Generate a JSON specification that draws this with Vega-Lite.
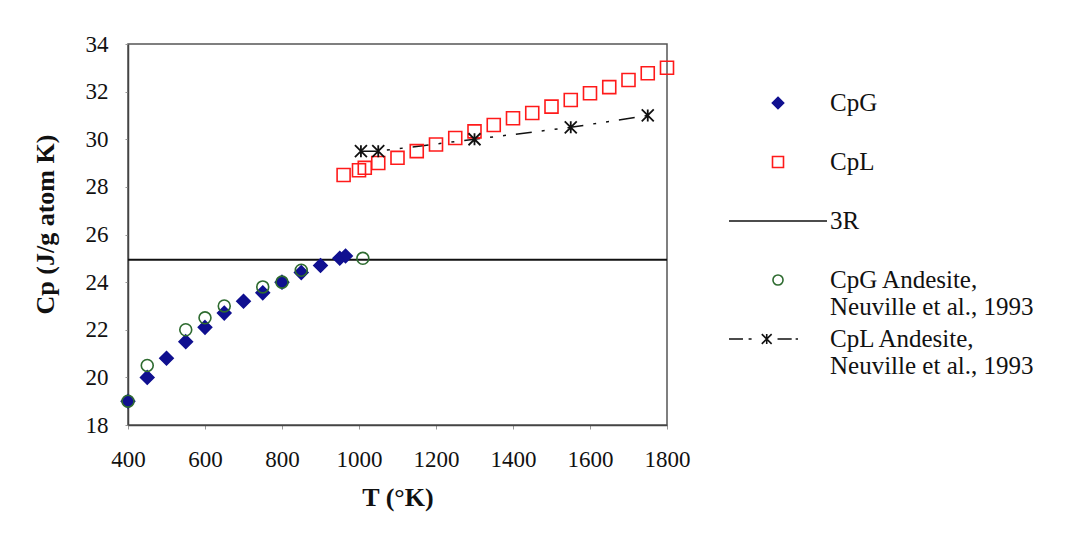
{
  "$schema": "https://vega.github.io/schema/vega-lite/v6.json",
  "width": 539,
  "height": 381,
  "autosize": {"type": "none"},
  "padding": {"left": 128, "top": 44, "right": 400, "bottom": 116},
  "background": "white",
  "config": {
    "font": "Liberation Serif",
    "view": {"stroke": "#555", "strokeWidth": 1.5},
    "axis": {
      "grid": false,
      "domainColor": "#444",
      "domainWidth": 1.5,
      "tickColor": "#999",
      "labelFont": "Liberation Serif",
      "labelFontSize": 23,
      "labelColor": "#111",
      "labelFlush": false,
      "labelOverlap": false,
      "titleFont": "Liberation Serif",
      "titleFontWeight": "bold",
      "titleColor": "#111"
    }
  },
  "data": {
    "values": [
      {"series": "CpG", "T": 400, "Cp": 19.0},
      {"series": "CpG", "T": 450, "Cp": 20.0},
      {"series": "CpG", "T": 500, "Cp": 20.8},
      {"series": "CpG", "T": 550, "Cp": 21.5},
      {"series": "CpG", "T": 600, "Cp": 22.1},
      {"series": "CpG", "T": 650, "Cp": 22.7},
      {"series": "CpG", "T": 700, "Cp": 23.2},
      {"series": "CpG", "T": 750, "Cp": 23.55},
      {"series": "CpG", "T": 800, "Cp": 24.0},
      {"series": "CpG", "T": 850, "Cp": 24.4},
      {"series": "CpG", "T": 900, "Cp": 24.7},
      {"series": "CpG", "T": 950, "Cp": 25.0},
      {"series": "CpG", "T": 965, "Cp": 25.1},
      {"series": "CpL", "T": 960, "Cp": 28.5},
      {"series": "CpL", "T": 1000, "Cp": 28.7},
      {"series": "CpL", "T": 1015, "Cp": 28.8},
      {"series": "CpL", "T": 1050, "Cp": 29.0},
      {"series": "CpL", "T": 1100, "Cp": 29.22},
      {"series": "CpL", "T": 1150, "Cp": 29.5},
      {"series": "CpL", "T": 1200, "Cp": 29.78},
      {"series": "CpL", "T": 1250, "Cp": 30.05},
      {"series": "CpL", "T": 1300, "Cp": 30.33},
      {"series": "CpL", "T": 1350, "Cp": 30.6},
      {"series": "CpL", "T": 1400, "Cp": 30.88},
      {"series": "CpL", "T": 1450, "Cp": 31.1},
      {"series": "CpL", "T": 1500, "Cp": 31.37},
      {"series": "CpL", "T": 1550, "Cp": 31.65},
      {"series": "CpL", "T": 1600, "Cp": 31.93},
      {"series": "CpL", "T": 1650, "Cp": 32.19},
      {"series": "CpL", "T": 1700, "Cp": 32.49},
      {"series": "CpL", "T": 1750, "Cp": 32.77},
      {"series": "CpL", "T": 1800, "Cp": 33.0},
      {"series": "CpG Andesite", "T": 400, "Cp": 19.0},
      {"series": "CpG Andesite", "T": 450, "Cp": 20.5},
      {"series": "CpG Andesite", "T": 550, "Cp": 22.0},
      {"series": "CpG Andesite", "T": 600, "Cp": 22.5},
      {"series": "CpG Andesite", "T": 650, "Cp": 23.0},
      {"series": "CpG Andesite", "T": 750, "Cp": 23.8},
      {"series": "CpG Andesite", "T": 800, "Cp": 24.0},
      {"series": "CpG Andesite", "T": 850, "Cp": 24.5},
      {"series": "CpG Andesite", "T": 1010, "Cp": 25.0},
      {"series": "CpL Andesite", "T": 1005, "Cp": 29.5},
      {"series": "CpL Andesite", "T": 1050, "Cp": 29.5},
      {"series": "CpL Andesite", "T": 1300, "Cp": 30.0},
      {"series": "CpL Andesite", "T": 1550, "Cp": 30.5},
      {"series": "CpL Andesite", "T": 1750, "Cp": 31.0},
      {"series": "3R", "Cp": 24.94}
    ]
  },
  "layer": [
    {
      "transform": [{"filter": "datum.series === '3R'"}],
      "mark": {"type": "rule", "stroke": "#111", "strokeWidth": 2},
      "encoding": {
        "y": {"field": "Cp", "type": "quantitative", "scale": {"domain": [18, 34], "nice": false, "zero": false}}
      }
    },
    {
      "transform": [{"filter": "datum.series === 'CpL Andesite'"}],
      "mark": {"type": "line", "stroke": "#111", "strokeWidth": 1.5, "strokeDash": [16, 10, 3, 10, 3, 10]},
      "encoding": {
        "x": {"field": "T", "type": "quantitative"},
        "y": {"field": "Cp", "type": "quantitative"}
      }
    },
    {
      "transform": [{"filter": "datum.series === 'CpG' || datum.series === 'CpL' || datum.series === 'CpG Andesite'"}],
      "mark": {"type": "point", "size": 805, "strokeWidth": 1.6, "opacity": 1},
      "encoding": {
        "x": {
          "field": "T", "type": "quantitative",
          "scale": {"domain": [400, 1800], "nice": false, "zero": false},
          "axis": {"values": [400, 600, 800, 1000, 1200, 1400, 1600, 1800], "format": "d", "tickSize": 4, "labelPadding": 19, "title": "T (°K)", "titleFontSize": 26, "titleBaseline": "alphabetic", "titleY": 80}
        },
        "y": {
          "field": "Cp", "type": "quantitative",
          "scale": {"domain": [18, 34], "nice": false, "zero": false},
          "axis": {"values": [18, 20, 22, 24, 26, 28, 30, 32, 34], "format": "d", "tickSize": 3, "labelPadding": 17, "title": "Cp (J/g atom K)", "titleFontSize": 26, "titleBaseline": "alphabetic", "titleX": -75, "titleY": 180, "titleAngle": -90}
        },
        "shape": {
          "field": "series", "type": "nominal",
          "scale": {
            "domain": ["CpG", "CpL", "3R", "CpG Andesite", "CpL Andesite"],
            "range": [
              "M-4.083,0L-4.083,0M4.083,0L4.083,0M0,-0.47L0.47,0L0,0.47L-0.47,0Z",
              "M-4.083,0L-4.083,0M4.083,0L4.083,0M-0.458,-0.458L0.458,-0.458L0.458,0.458L-0.458,0.458Z",
              "M-4.083,0L4.083,0",
              "M-4.083,0L-4.083,0M4.083,0L4.083,0M0.42,0A0.42,0.42,0,1,1,-0.42,0A0.42,0.42,0,1,1,0.42,0Z",
              "M-4.083,0L-2.917,0M-2.45,0L-2.2,0M-1.35,-0.41L-0.53,0.41M-1.35,0.41L-0.53,-0.41M-0.94,-0.41L-0.94,0.41M-0.04,0L1.14,0M1.47,0L1.67,0M4.083,0L4.083,0"
            ]
          },
          "legend": {
            "title": null,
            "orient": "none",
            "legendX": 600,
            "legendY": 46,
            "padding": 0,
            "symbolSize": 576,
            "symbolStrokeWidth": 1.6,
            "symbolOffset": 37,
            "labelFont": "Liberation Serif",
            "labelFontSize": 25,
            "labelColor": "#111",
            "labelOffset": 39,
            "labelLimit": 400,
            "rowPadding": 6,
            "gridAlign": "all",
            "labelExpr": "datum.label == 'CpG Andesite' ? ['CpG Andesite,', 'Neuville et al., 1993'] : datum.label == 'CpL Andesite' ? ['CpL Andesite,', 'Neuville et al., 1993'] : datum.label",
            "encode": {"labels": {"update": {"lineHeight": {"value": 25}}}}
          }
        },
        "fill": {
          "field": "series", "type": "nominal",
          "scale": {
            "domain": ["CpG", "CpL", "3R", "CpG Andesite", "CpL Andesite"],
            "range": ["#101090", "transparent", "transparent", "transparent", "transparent"]
          }
        },
        "stroke": {
          "field": "series", "type": "nominal",
          "scale": {
            "domain": ["CpG", "CpL", "3R", "CpG Andesite", "CpL Andesite"],
            "range": ["#101090", "#ff1a1a", "#111111", "#2e6b30", "#111111"]
          }
        }
      }
    },
    {
      "transform": [{"filter": "datum.series === 'CpL Andesite'"}],
      "mark": {"type": "point", "shape": "M-1,-1L1,1M-1,1L1,-1M0,-1L0,1", "size": 144, "stroke": "#111", "strokeWidth": 1.8, "opacity": 1},
      "encoding": {
        "x": {"field": "T", "type": "quantitative"},
        "y": {"field": "Cp", "type": "quantitative"}
      }
    }
  ]
}
